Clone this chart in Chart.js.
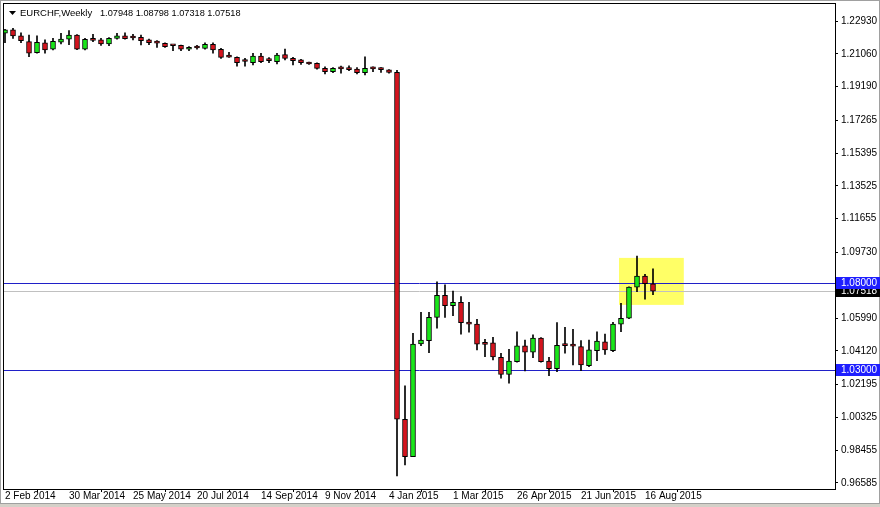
<!DOCTYPE html>
<html>
<head>
<meta charset="utf-8">
<script src="https://cdn.jsdelivr.net/npm/chart.js@4.4.0/dist/chart.umd.min.js"></script>
<style>
  html, body { margin: 0; padding: 0; background: #fff; }
  #wrap { width: 880px; height: 507px; }
</style>
</head>
<body>
<div id="wrap"><canvas id="chart" width="880" height="507"></canvas></div>
<script>
// EURCHF weekly, one entry per week starting 2 Feb 2014
const opens = [
  1.2223, 1.2242, 1.2208, 1.2175, 1.2112, 1.2169, 1.2132, 1.2173, 1.2189, 1.2213,
  1.2132, 1.2184, 1.2185, 1.2162, 1.2194, 1.2208, 1.2198, 1.2200, 1.2185, 1.2169,
  1.2166, 1.2154, 1.2154, 1.2132, 1.2141, 1.2137, 1.2160, 1.2132, 1.2088, 1.2086,
  1.2063, 1.2055, 1.2093, 1.2069, 1.2061, 1.2101, 1.2080, 1.2071, 1.2058, 1.2052,
  1.2023, 1.2004, 1.2022, 1.2022, 1.2019, 1.1998, 1.2022, 1.2018, 1.2014, 1.2000,
  1.0022, 0.9809, 1.0451, 1.0470, 1.0603, 1.0729, 1.0670, 1.0689, 1.0575, 1.0564,
  1.0453, 1.0457, 1.0375, 1.0278, 1.0350, 1.0440, 1.0404, 1.0484, 1.0354, 1.0310,
  1.0443, 1.0441, 1.0436, 1.0327, 1.0413, 1.0463, 1.0413, 1.0564, 1.0598, 1.0775,
  1.0839, 1.07948
];
const highs = [
  1.2246, 1.2251, 1.2226, 1.2213, 1.2208, 1.2185, 1.2194, 1.2223, 1.2238, 1.2216,
  1.2194, 1.2217, 1.2194, 1.2198, 1.2223, 1.2226, 1.2217, 1.2213, 1.2190, 1.2181,
  1.2168, 1.2156, 1.2156, 1.2147, 1.2154, 1.2169, 1.2169, 1.2137, 1.2115, 1.2089,
  1.2080, 1.2109, 1.2109, 1.2084, 1.2109, 1.2133, 1.2086, 1.2075, 1.2059, 1.2055,
  1.2032, 1.2027, 1.2036, 1.2038, 1.2027, 1.2089, 1.2032, 1.2027, 1.2016, 1.2012,
  1.0212, 1.0512, 1.0632, 1.0632, 1.0806, 1.0788, 1.0753, 1.0721, 1.0689, 1.0592,
  1.0478, 1.0489, 1.0398, 1.0421, 1.0521, 1.0474, 1.0503, 1.0487, 1.0375, 1.0573,
  1.0546, 1.0535, 1.0470, 1.0474, 1.0521, 1.0508, 1.0575, 1.0683, 1.0777, 1.0953,
  1.0848, 1.08798
];
const lows = [
  1.2169, 1.2194, 1.2169, 1.2089, 1.2109, 1.2109, 1.2128, 1.2162, 1.2158, 1.2130,
  1.2128, 1.2175, 1.2154, 1.2152, 1.2189, 1.2189, 1.2185, 1.2156, 1.2158, 1.2143,
  1.2143, 1.2124, 1.2124, 1.2124, 1.2132, 1.2132, 1.2109, 1.2080, 1.2085, 1.2036,
  1.2036, 1.2042, 1.2055, 1.2055, 1.2048, 1.2071, 1.2042, 1.2046, 1.2046, 1.2018,
  1.1991, 1.1998, 1.1995, 1.2010, 1.1991, 1.1985, 1.2004, 1.2000, 1.1995, 0.9699,
  0.9761, 0.9808, 1.0442, 1.0402, 1.0541, 1.0603, 1.0613, 1.0507, 1.0518, 1.0417,
  1.0379, 1.0360, 1.0256, 1.0227, 1.0348, 1.0297, 1.0373, 1.0348, 1.0270, 1.0293,
  1.0398, 1.0331, 1.0299, 1.0322, 1.0356, 1.0392, 1.0407, 1.0521, 1.0596, 1.0749,
  1.0706, 1.07318
];
const closes = [
  1.2242, 1.2208, 1.2181, 1.2109, 1.2172, 1.2128, 1.2177, 1.2190, 1.2213, 1.2132,
  1.2189, 1.2183, 1.2162, 1.2194, 1.2209, 1.2192, 1.2196, 1.2181, 1.2169, 1.2167,
  1.2147, 1.2152, 1.2132, 1.2143, 1.2139, 1.2160, 1.2128, 1.2086, 1.2087, 1.2055,
  1.2062, 1.2093, 1.2061, 1.2067, 1.2099, 1.2080, 1.2067, 1.2055, 1.2048, 1.2023,
  1.2004, 1.2023, 1.2020, 1.2016, 1.1998, 1.2023, 1.2020, 1.2016, 1.2000, 1.0022,
  0.9809, 1.0450, 1.0474, 1.0603, 1.0729, 1.0670, 1.0689, 1.0573, 1.0564, 1.0450,
  1.0449, 1.0377, 1.0278, 1.0354, 1.0440, 1.0404, 1.0484, 1.0350, 1.0310, 1.0444,
  1.0442, 1.0439, 1.0331, 1.0417, 1.0468, 1.0417, 1.0564, 1.0598, 1.0775, 1.0839,
  1.0795, 1.07518
];

const weekTicks = [0, 8, 16, 24, 32, 40, 48, 56, 64, 72, 80];
const weekTickLabels = ['2 Feb 2014', '30 Mar 2014', '25 May 2014', '20 Jul 2014', '14 Sep 2014',
  '9 Nov 2014', '4 Jan 2015', '1 Mar 2015', '26 Apr 2015', '21 Jun 2015', '16 Aug 2015'];
const priceTicks = [1.22930, 1.21060, 1.19190, 1.17265, 1.15395, 1.13525, 1.11655, 1.09730,
  1.05990, 1.04120, 1.02195, 1.00325, 0.98455, 0.96585];

const levels = [1.08000, 1.03000];
const bidPrice = 1.07518;
const highlight = { fromWeek: 76.75, toWeek: 84.85, top: 1.0942, bottom: 1.0674 };
const titleSymbol = 'EURCHF,Weekly';
const titleOHLC = '1.07948 1.08798 1.07318 1.07518';

const bull = '#19e619';
const bear = '#d4141e';

const weeks = opens.map((_, i) => i);
const wickData = weeks.map(i => ({ x: i, y: [lows[i], highs[i]] }));
const bodyData = weeks.map(i => ({ x: i, y: [opens[i], closes[i]] }));
const bodyColors = weeks.map(i => closes[i] >= opens[i] ? bull : bear);

const noPad = s => { s.paddingTop = 0; s.paddingBottom = 0; s.paddingLeft = 0; s.paddingRight = 0; };

const overlay = {
  id: 'overlay',
  beforeDatasetsDraw(chart) {
    const { ctx, chartArea: a, scales: { x, y } } = chart;
    ctx.save();
    ctx.beginPath();
    ctx.rect(a.left, a.top, a.right - a.left, a.bottom - a.top);
    ctx.clip();
    // highlight rectangle
    const x0 = x.getPixelForValue(highlight.fromWeek);
    const x1 = x.getPixelForValue(highlight.toWeek);
    const y0 = y.getPixelForValue(highlight.top);
    const y1 = y.getPixelForValue(highlight.bottom);
    ctx.fillStyle = '#ffff66';
    ctx.fillRect(x0, y0, x1 - x0, y1 - y0);
    // bid line
    ctx.lineWidth = 1;
    ctx.strokeStyle = '#c0c0c0';
    const by = Math.round(y.getPixelForValue(bidPrice)) + 0.5;
    ctx.beginPath(); ctx.moveTo(a.left, by); ctx.lineTo(a.right, by); ctx.stroke();
    // horizontal levels
    ctx.strokeStyle = '#2020c8';
    levels.forEach(v => {
      const ly = Math.round(y.getPixelForValue(v)) + 0.5;
      ctx.beginPath(); ctx.moveTo(a.left, ly); ctx.lineTo(a.right, ly); ctx.stroke();
    });
    ctx.restore();
  },
  afterDraw(chart) {
    const { ctx, chartArea: a, scales: { y } } = chart;
    ctx.save();
    // plot frame
    ctx.strokeStyle = '#000';
    ctx.lineWidth = 1;
    ctx.strokeRect(a.left - 0.5, a.top - 0.5, a.right - a.left + 1, a.bottom - a.top + 1);
    // outer window frame
    ctx.strokeStyle = '#a0a0a0';
    ctx.strokeRect(0.5, 0.5, 879, 503);
    ctx.fillStyle = '#d4d0c8';
    ctx.fillRect(0, 504, 880, 3);
    // price labels on the axis
    ctx.font = '10px "Liberation Sans"';
    ctx.textBaseline = 'middle';
    const tag = (v, bg) => {
      const py = Math.round(y.getPixelForValue(v));
      ctx.fillStyle = bg;
      ctx.fillRect(a.right + 1, py - 6, 44, 12);
      ctx.fillStyle = '#fff';
      ctx.fillText(v.toFixed(5), a.right + 6, py + 0.5);
    };
    tag(bidPrice, '#000');
    levels.forEach(v => tag(v, '#1e1eff'));
    // title
    ctx.fillStyle = '#000';
    ctx.beginPath();
    ctx.moveTo(9, 11); ctx.lineTo(16, 11); ctx.lineTo(12.5, 15); ctx.closePath();
    ctx.fill();
    ctx.textAlign = 'left';
    ctx.font = '9.5px "Liberation Sans"';
    ctx.fillText(titleSymbol, 20, 13);
    ctx.font = '9.2px "Liberation Sans"';
    ctx.fillText(titleOHLC, 100, 13);
    ctx.restore();
  }
};

Chart.defaults.font.family = '"Liberation Sans", Arial, sans-serif';
Chart.defaults.font.size = 10;
Chart.defaults.color = '#000';

new Chart(document.getElementById('chart'), {
  type: 'bar',
  data: {
    datasets: [
      {
        label: 'body',
        data: bodyData,
        backgroundColor: bodyColors,
        borderColor: '#000',
        borderWidth: 1,
        borderSkipped: false,
        barThickness: 5,
        minBarLength: 2,
        grouped: false,
        order: 0
      },
      {
        label: 'wick',
        data: wickData,
        backgroundColor: '#000',
        borderWidth: 0,
        barThickness: 1,
        grouped: false,
        order: 1
      }
    ]
  },
  plugins: [overlay],
  options: {
    responsive: false,
    animation: false,
    layout: { padding: { left: 4, top: 4, right: 0, bottom: 0 } },
    plugins: { legend: { display: false }, tooltip: { enabled: false } },
    scales: {
      x: {
        type: 'linear',
        min: -0.125,
        max: 103.75,
        offset: false,
        grid: { drawOnChartArea: false, drawTicks: true, tickLength: 3, color: '#000' },
        border: { display: true, color: '#000' },
        afterBuildTicks: s => { s.ticks = weekTicks.map(v => ({ value: v })); },
        afterFit: s => { s.height = 18; noPad(s); },
        ticks: {
          autoSkip: false,
          maxRotation: 0,
          align: 'start',
          padding: -2,
          callback: v => weekTickLabels[weekTicks.indexOf(v)]
        }
      },
      y: {
        position: 'right',
        min: 0.9624,
        max: 1.2390,
        grid: { drawOnChartArea: false, drawTicks: true, tickLength: 3, color: '#000' },
        border: { display: true, color: '#000' },
        afterBuildTicks: s => { s.ticks = priceTicks.map(v => ({ value: v })); },
        afterFit: s => { s.width = 45; noPad(s); },
        ticks: {
          padding: 3,
          callback: v => v.toFixed(5)
        }
      }
    }
  }
});
</script>
</body>
</html>
